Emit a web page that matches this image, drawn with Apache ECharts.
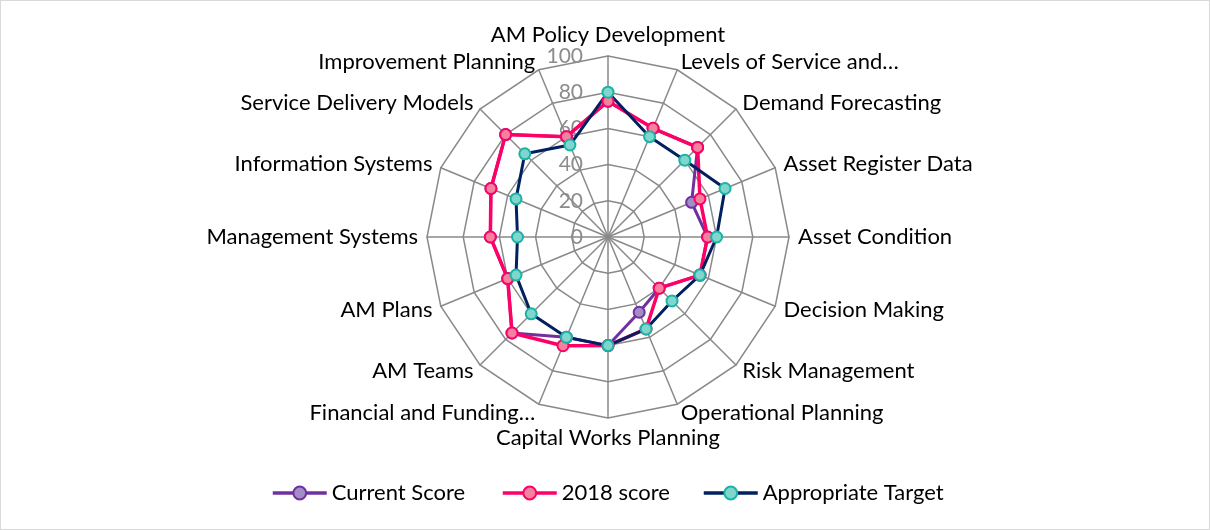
<!DOCTYPE html>
<html>
<head>
<meta charset="utf-8">
<script src="https://cdn.jsdelivr.net/npm/echarts@6/dist/echarts.min.js"></script>
<style>
  body { margin: 0; background: #fff; }
  #chart { width: 1210px; height: 530px; box-sizing: border-box; border: 1px solid #d9d9d9; }
</style>
</head>
<body>
<div id="chart"></div>
<script>
// indicators, clockwise from the top
const categories = [
  'AM Policy Development', 'Levels of Service and…', 'Demand Forecasting', 'Asset Register Data',
  'Asset Condition', 'Decision Making', 'Risk Management', 'Operational Planning',
  'Capital Works Planning', 'Financial and Funding…', 'AM Teams', 'AM Plans',
  'Management Systems', 'Information Systems', 'Service Delivery Models', 'Improvement Planning'
]
const currentScore = [75, 65, 70, 50, 55, 55, 40, 45, 60, 60, 75, 60, 65, 70, 80, 60]
const score2018 = [75, 65, 70, 55, 55, 55, 40, 55, 60, 65, 75, 60, 65, 70, 80, 60]
const appropriateTarget = [80, 60, 60, 70, 60, 55, 50, 55, 60, 60, 60, 55, 50, 55, 65, 55]
const seriesNames = ['Current Score', '2018 score', 'Appropriate Target']

// echarts lays indicators out counter-clockwise, so flip everything after the first
const order = [0].concat(categories.map((c, i) => i).slice(1).reverse())
const pick = arr => order.map(i => arr[i])

const styles = [
  { line: '#7030a0', fill: '#a28dc9', border: '#7030a0', width: 3 },
  { line: '#ff0066', fill: '#f4829f', border: '#ff0066', width: 3.5 },
  { line: '#002060', fill: '#7fd6cd', border: '#1bb3a6', width: 3 }
]
const values = [currentScore, score2018, appropriateTarget]
const legendLeft = [265, 495, 696]

const font = 'Lato'

// empty line series only so the legend gets Excel-like line + marker icons
const legendSeries = seriesNames.map((n, i) => ({
  type: 'line',
  name: n,
  data: [],
  symbol: 'circle',
  lineStyle: { color: styles[i].line, width: styles[i].width },
  itemStyle: { color: styles[i].fill, borderColor: styles[i].border, borderWidth: 2 }
}))

const chart = echarts.init(document.getElementById('chart'))
chart.setOption({
  animation: false,
  grid: { show: false, left: 0, top: 0, width: 1, height: 1 },
  xAxis: { show: false },
  yAxis: { show: false },
  legend: seriesNames.map((n, i) => ({
    left: legendLeft[i],
    top: 476,
    itemWidth: 54,
    itemHeight: 16,
    itemGap: 6,
    textStyle: { fontFamily: font, fontSize: 22, color: '#000' },
    data: [{
      name: n,
      lineStyle: { color: styles[i].line, width: 3.5 },
      itemStyle: { color: styles[i].fill, borderColor: styles[i].border, borderWidth: 2 }
    }]
  })),
  radar: {
    center: [607, 236],
    radius: 181,
    startAngle: 90,
    shape: 'polygon',
    splitNumber: 5,
    indicator: pick(categories).map((name, i) => ({
      name: name,
      min: 0,
      max: 100,
      axisLabel: i === 0 ? { show: true } : undefined
    })),
    axisName: { color: '#000', fontFamily: font, fontSize: 22 },
    nameGap: 9,
    axisLabel: { show: false, color: '#8c8c8c', fontFamily: font, fontSize: 21, margin: 25 },
    axisLine: { lineStyle: { color: '#898989', width: 1.5 } },
    splitLine: { lineStyle: { color: '#898989', width: 1.5 } },
    splitArea: { show: false }
  },
  series: legendSeries.concat([{
    type: 'radar',
    symbol: 'circle',
    symbolSize: 11,
    data: values.map((v, i) => ({
      name: seriesNames[i],
      value: pick(v),
      lineStyle: { color: styles[i].line, width: styles[i].width },
      itemStyle: { color: styles[i].fill, borderColor: styles[i].border, borderWidth: 2 }
    }))
  }])
})
</script>
</body>
</html>
